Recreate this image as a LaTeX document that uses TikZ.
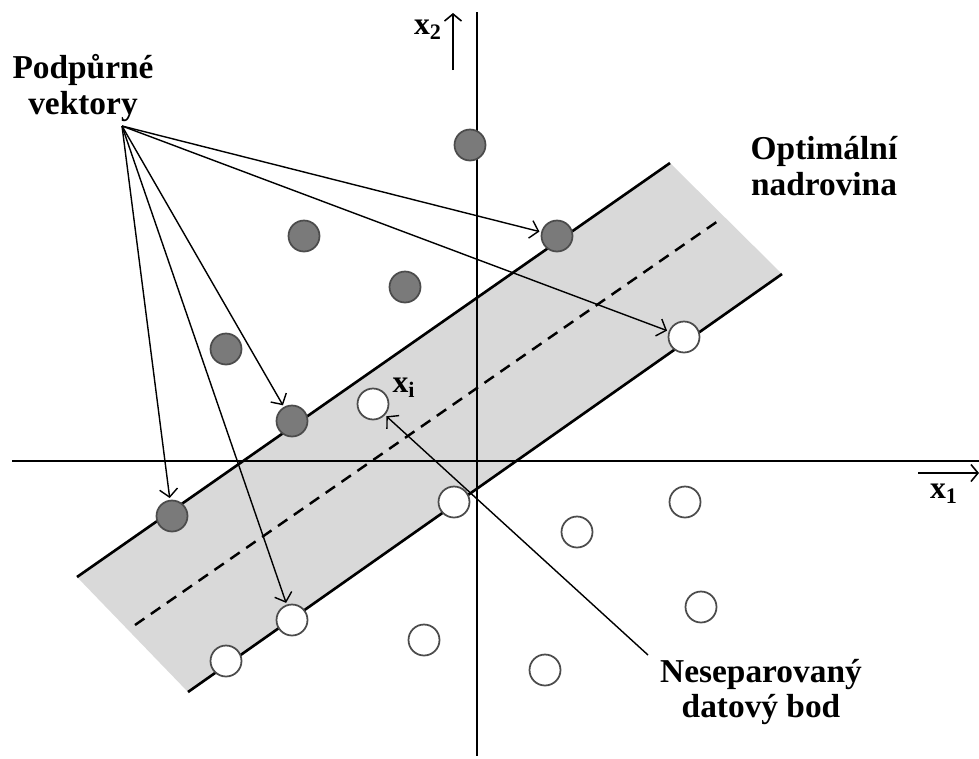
\documentclass[tikz,border=0pt]{standalone}
\usepackage{fontspec}
\setmainfont{Liberation Serif}
\usetikzlibrary{arrows.meta}

\begin{document}
\begin{tikzpicture}[x=0.02cm, y=-0.02cm,
    inner/.style={circle, draw=black!70, fill=black!52, line width=1pt, minimum size=0.62cm, inner sep=0pt},
    outer/.style={circle, draw=black!70, fill=white, line width=1pt, minimum size=0.62cm, inner sep=0pt},
    caption/.style={font=\bfseries\fontsize{19}{20}\selectfont, align=center, inner sep=0pt},
    axis/.style={draw, line width=1.1pt},
    bound/.style={draw, line width=1.5pt},
    line/.style={draw, line width=0.8pt, -{Straight Barb[length=1.6mm, width=3.6mm]}, shorten >=1pt}]

    \useasboundingbox (0,0) rectangle (979,758);

    % margin band
    \coordinate (b1) at (77,577);
    \coordinate (b2) at (670,163);
    \coordinate (b3) at (782,274);
    \coordinate (b4) at (188,692);
    \fill [black!15] (b1) -- (b2) -- (b3) -- (b4) -- cycle;

    % axes
    \coordinate (xl) at (12,461);
    \coordinate (xr) at (979,461);
    \coordinate (yt) at (477,12);
    \coordinate (yb) at (477,756);
    \path [axis] (xl) -- (xr);
    \path [axis] (yt) -- (yb);

    \path [bound] (b1) -- (b2);
    \path [bound] (b4) -- (b3);
    \coordinate (m1) at (135,625);
    \coordinate (m2) at (718,221);
    \path [draw, line width=1.4pt, dash pattern=on 6.5pt off 4.5pt] (m1) -- (m2);

    % axis labels
    \coordinate (a2s) at (453,70);
    \coordinate (a2e) at (453,13);
    \coordinate (a1s) at (918,473);
    \coordinate (a1e) at (979,473);
    \path [draw, line width=0.9pt, -{Straight Barb[length=1.4mm, width=3.4mm]}] (a2s) -- (a2e);
    \path [draw, line width=0.9pt, -{Straight Barb[length=1.4mm, width=3.4mm]}] (a1s) -- (a1e);
    \node [caption, font=\bfseries\fontsize{18}{18}\selectfont] (x2) at (428,30) {x\textsubscript{2}};
    \node [caption, font=\bfseries\fontsize{18}{18}\selectfont] (x1) at (944,494) {x\textsubscript{1}};

    % class one
    \node [inner] (d1) at (470,145) {};
    \node [inner] (d2) at (557,236) {};
    \node [inner] (d3) at (304,236) {};
    \node [inner] (d4) at (405,287) {};
    \node [inner] (d5) at (226,349) {};
    \node [inner] (d6) at (292,421) {};
    \node [inner] (d7) at (172,516) {};

    % class two
    \node [outer] (w1) at (684,337) {};
    \node [outer] (xi) at (373,404) {};
    \node [outer] (w3) at (454,502) {};
    \node [outer] (w4) at (577,532) {};
    \node [outer] (w5) at (685,502) {};
    \node [outer] (w6) at (701,607) {};
    \node [outer] (w7) at (292,620) {};
    \node [outer] (w8) at (226,661) {};
    \node [outer] (w9) at (424,640) {};
    \node [outer] (w10) at (545,670) {};
    \node [caption, font=\bfseries\fontsize{18}{18}\selectfont] (xil) at (404,388) {x\textsubscript{i}};

    % labels
    \node [caption] (support) at (83,88) {Podpůrné\\vektory};
    \node [caption] (optimal) at (824,166) {Optimální\\nadrovina};
    \node [caption] (nonsep) at (761,692) {Neseparovaný\\datový bod};
    \coordinate (src) at (122,126);
    \coordinate (nsrc) at (648,655);

    \path [line] (src) -- (d2);
    \path [line] (src) -- (w1);
    \path [line] (src) -- (d6);
    \path [line] (src) -- (d7);
    \path [line] (src) -- (w7);
    \path [line] (nsrc) -- (xi);
\end{tikzpicture}
\end{document}
